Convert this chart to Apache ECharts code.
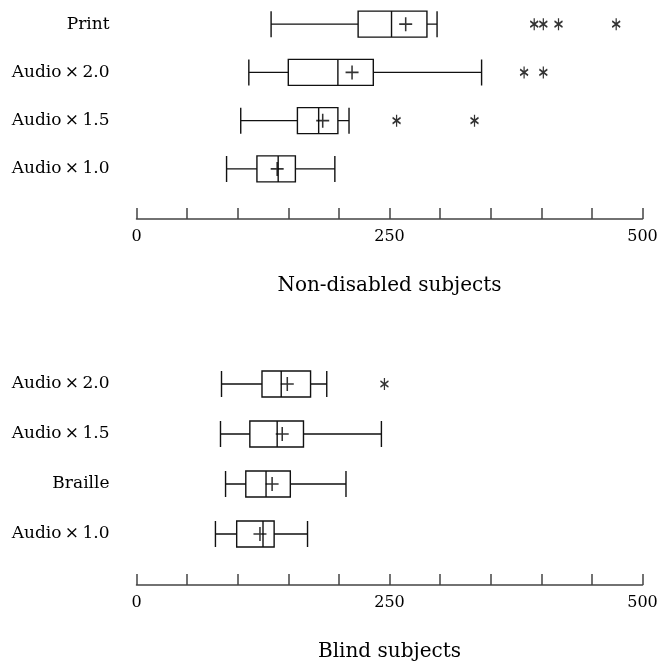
<!DOCTYPE html>
<html>
<head>
<meta charset="utf-8">
<script src="https://cdn.jsdelivr.net/npm/echarts@6/dist/echarts.min.js"></script>
<style>
html,body{margin:0;padding:0;background:#fff;}
#chart{width:671px;height:667px;}
</style>
</head>
<body>
<div id="chart"></div>
<script>
// ---- Data ----
// Non-disabled subjects (bottom to top)
const catsTop = ['Audio\u2009\u00d7\u20091.0', 'Audio\u2009\u00d7\u20091.5', 'Audio\u2009\u00d7\u20092.0', 'Print'];
// [min, Q1, median, Q3, max]
const boxesTop = [
  [89, 119, 140, 157, 196],
  [103, 159, 180, 199, 210],
  [111, 150, 199, 234, 341],
  [133, 219, 252, 287, 297]
];
const meansTop = [139, 184, 213, 266];
const outliersTop = [
  [257, 1], [334, 1],
  [383, 2], [402, 2],
  [393, 3], [402, 3], [417, 3], [474, 3]
];

// Blind subjects (bottom to top)
const catsBot = ['Audio\u2009\u00d7\u20091.0', 'Braille', 'Audio\u2009\u00d7\u20091.5', 'Audio\u2009\u00d7\u20092.0'];
const boxesBot = [
  [78, 99, 125, 136, 169],
  [88, 108, 128, 152, 207],
  [83, 112, 139, 165, 242],
  [84, 124, 143, 172, 188]
];
const meansBot = [122, 134, 144, 149];
const outliersBot = [
  [245, 3]
];

const tickLabels = [0, 250, 500];
const titles = ['Non-disabled subjects', 'Blind subjects'];

// ---- Chart ----
const FONT = '"DejaVu Serif", serif';
const plusPath = 'path://M0,7 L14,7 M7,0 L7,14';
const starPath = 'path://M5,0 L5,12 M0,3 L10,9 M0,9 L10,3';

function xAx(gi, title) {
  return {
    type: 'value', gridIndex: gi, min: 0, max: 500, interval: 50,
    position: 'bottom', offset: 26,
    axisLine: {show: true, lineStyle: {color: '#444', width: 1.5}},
    axisTick: {show: true, inside: true, length: 11, lineStyle: {color: '#444', width: 1.5}},
    splitLine: {show: false},
    axisLabel: {
      margin: 10, color: '#000', fontSize: 16, fontFamily: FONT,
      formatter: v => tickLabels.indexOf(v) >= 0 ? String(v) : ''
    },
    name: title, nameLocation: 'middle', nameGap: 57,
    nameTextStyle: {color: '#000', fontSize: 20, fontFamily: FONT}
  };
}
function yAx(gi, cats) {
  return {
    type: 'category', gridIndex: gi, data: cats,
    axisLine: {show: false}, axisTick: {show: false}, splitLine: {show: false},
    axisLabel: {margin: 27, color: '#000', fontSize: 17, fontFamily: FONT}
  };
}
function means(vals) { return vals.map((v, i) => [v, i]); }

const boxStyle = {color: '#fff', borderColor: '#111', borderWidth: 1.4};
const option = {
  backgroundColor: '#fff',
  animation: false,
  grid: [
    {left: 136.5, width: 506, top: -7, height: 200},
    {left: 136.5, width: 506, top: 359, height: 200}
  ],
  xAxis: [xAx(0, titles[0]), xAx(1, titles[1])],
  yAxis: [yAx(0, catsTop), yAx(1, catsBot)],
  series: [
    {type: 'boxplot', xAxisIndex: 0, yAxisIndex: 0, data: boxesTop,
     boxWidth: [26, 26], itemStyle: boxStyle},
    {type: 'boxplot', xAxisIndex: 1, yAxisIndex: 1, data: boxesBot,
     boxWidth: [26, 26], itemStyle: boxStyle},
    {type: 'scatter', xAxisIndex: 0, yAxisIndex: 0, data: means(meansTop),
     symbol: plusPath, symbolSize: [13, 14],
     itemStyle: {color: '#000', borderColor: '#000', borderWidth: 1.6}},
    {type: 'scatter', xAxisIndex: 1, yAxisIndex: 1, data: means(meansBot),
     symbol: plusPath, symbolSize: [13, 14],
     itemStyle: {color: '#000', borderColor: '#000', borderWidth: 1.6}},
    {type: 'scatter', xAxisIndex: 0, yAxisIndex: 0, data: outliersTop,
     symbol: starPath, symbolSize: [8, 12],
     itemStyle: {color: '#000', borderColor: '#000', borderWidth: 1.5}},
    {type: 'scatter', xAxisIndex: 1, yAxisIndex: 1, data: outliersBot,
     symbol: starPath, symbolSize: [8, 12],
     itemStyle: {color: '#000', borderColor: '#000', borderWidth: 1.5}}
  ]
};
const chart = echarts.init(document.getElementById('chart'), null, {renderer: 'canvas'});
chart.setOption(option);
</script>
</body>
</html>
